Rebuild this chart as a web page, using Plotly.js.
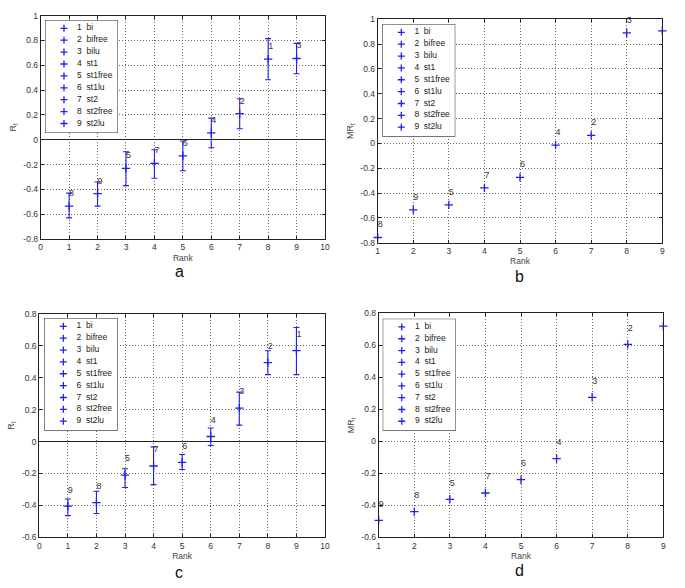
<!DOCTYPE html>
<html>
<head>
<meta charset="utf-8">
<script src="https://cdn.plot.ly/plotly-3.0.1.min.js"></script>
<style>
  html, body { margin: 0; padding: 0; background: #fff; }
  #plot { width: 685px; height: 588px; }
</style>
</head>
<body>
<div id="plot"></div>
<script>
// methods, numbered 1..9 in the legends and in the point labels
const methods = ['bi', 'bifree', 'bilu', 'st1', 'st1free', 'st1lu', 'st2', 'st2free', 'st2lu'];
const ranks = [1, 2, 3, 4, 5, 6, 7, 8, 9];

// a: R_t with error bars (method at each rank)
const orderA = [8, 9, 5, 7, 6, 4, 2, 1, 3];
const valA = [-0.535, -0.435, -0.23, -0.19, -0.13, 0.056, 0.21, 0.65, 0.655];
const errUpA = [0.105, 0.095, 0.133, 0.11, 0.12, 0.118, 0.12, 0.165, 0.122];
const errDownA = [0.095, 0.1, 0.14, 0.12, 0.12, 0.121, 0.121, 0.166, 0.123];

// b: MR_t
const orderB = [8, 9, 5, 7, 6, 4, 2, 3, 1];
const valB = [-0.758, -0.535, -0.495, -0.358, -0.274, -0.014, 0.065, 0.89, 0.907];

// c: R_t with error bars
const orderC = [9, 8, 5, 7, 6, 4, 3, 2, 1];
const valC = [-0.405, -0.382, -0.21, -0.153, -0.13, 0.032, 0.21, 0.495, 0.57];
const errUpC = [0.045, 0.071, 0.04, 0.12, 0.049, 0.053, 0.1, 0.075, 0.145];
const errDownC = [0.059, 0.069, 0.078, 0.117, 0.045, 0.056, 0.107, 0.075, 0.15];

// d: MR_t
const orderD = [9, 8, 5, 7, 6, 4, 3, 2, 1];
const valD = [-0.494, -0.44, -0.3625, -0.323, -0.24, -0.108, 0.275, 0.606, 0.72];

// tick labels
const xTicksWide = [0, 1, 2, 3, 4, 5, 6, 7, 8, 9, 10];
const xTicksTight = [1, 2, 3, 4, 5, 6, 7, 8, 9];
const yTicksAB = [-0.8, -0.6, -0.4, -0.2, 0, 0.2, 0.4, 0.6, 0.8, 1];
const yTicksCD = [-0.6, -0.4, -0.2, 0, 0.2, 0.4, 0.6, 0.8];

// ---------------------------------------------------------------------------
const W = 685, H = 588;
const px = (x) => x / W;
const py = (y) => 1 - y / H;

const BLUE = '#2020ee';
const FONT = 'Liberation Sans, Arial, sans-serif';
const LEG_Y = [9.8, 0.3];   // legend axes y range (rows 1..9 top to bottom)

const panels = [
    { cap: 'a', order: orderA, vals: valA, up: errUpA, down: errDownA,
      box: [40.7, 15.7, 325, 239], leg: [45, 20, 118, 133],
      xt: xTicksWide, yt: yTicksAB, ytitle: 'R<sub>t</sub>', zero: true, capPos: [179, 271] },
    { cap: 'b', order: orderB, vals: valB,
      box: [377.7, 19.3, 662.3, 242.7], leg: [382.3, 24, 455.3, 136.7],
      xt: xTicksTight, yt: yTicksAB, ytitle: 'MR<sub>t</sub>', zero: false, capPos: [519, 276] },
    { cap: 'c', order: orderC, vals: valC, up: errUpC, down: errDownC,
      box: [39.3, 314, 325, 537.3], leg: [44.3, 318, 117.7, 430.7],
      xt: xTicksWide, yt: yTicksCD, ytitle: 'R<sub>t</sub>', zero: true, capPos: [179, 572] },
    { cap: 'd', order: orderD, vals: valD,
      box: [378.7, 313.3, 663.3, 537.3], leg: [382.7, 318.7, 456, 430.7],
      xt: xTicksTight, yt: yTicksCD, ytitle: 'MR<sub>t</sub>', zero: false, capPos: [519, 570] }
];

const data = [];
const layout = {
    width: W,
    height: H,
    margin: { t: 0, b: 0, l: 0, r: 0 },
    paper_bgcolor: '#fff',
    plot_bgcolor: '#fff',
    font: { family: FONT, size: 9, color: '#222' },
    showlegend: false,
    annotations: []
};

const marker = { symbol: 'cross-thin-open', size: 6, color: BLUE, line: { color: BLUE, width: 1.3 } };

panels.forEach(function (p, i) {
    const n = i + 1;
    const ax = n === 1 ? '' : String(n);
    const lg = String(n + 4);

    // main points (+ error bars for a and c)
    const pts = {
        type: 'scatter',
        mode: 'markers',
        x: ranks,
        y: p.vals,
        xaxis: 'x' + ax,
        yaxis: 'y' + ax,
        cliponaxis: false,
        marker: marker,
        hoverinfo: 'x+y'
    };
    if (p.up) {
        pts.error_y = {
            type: 'data', symmetric: false, array: p.up, arrayminus: p.down,
            color: BLUE, thickness: 1.1, width: 3
        };
    }
    data.push(pts);

    // method numbers above each point
    data.push({
        type: 'scatter',
        mode: 'text',
        x: ranks,
        y: p.vals.map(v => v + 0.1),
        text: p.order.map(m => String(m)),
        textposition: 'middle right',
        textfont: { family: FONT, size: 9, color: '#333' },
        xaxis: 'x' + ax,
        yaxis: 'y' + ax,
        cliponaxis: false,
        hoverinfo: 'skip'
    });

    // legend: white panel, markers and labels on their own small axes
    data.push({
        type: 'scatter',
        mode: 'lines',
        x: [0, 1, 1, 0, 0],
        y: [LEG_Y[0], LEG_Y[0], LEG_Y[1], LEG_Y[1], LEG_Y[0]],
        fill: 'toself',
        fillcolor: '#fff',
        line: { color: '#222', width: 1 },
        xaxis: 'x' + lg,
        yaxis: 'y' + lg,
        hoverinfo: 'skip'
    });
    data.push({
        type: 'scatter',
        mode: 'markers',
        x: ranks.map(() => 0.26),
        y: ranks,
        xaxis: 'x' + lg,
        yaxis: 'y' + lg,
        marker: { symbol: 'cross-thin-open', size: 5, color: BLUE, line: { color: BLUE, width: 1.3 } },
        hoverinfo: 'skip'
    });
    data.push({
        type: 'scatter',
        mode: 'text',
        x: ranks.map(() => 0.44),
        y: ranks,
        text: ranks.map((r, k) => r + '\u00a0\u00a0' + methods[k]),
        textposition: 'middle right',
        textfont: { family: FONT, size: 8.5, color: '#222' },
        xaxis: 'x' + lg,
        yaxis: 'y' + lg,
        hoverinfo: 'skip'
    });

    layout['xaxis' + ax] = {
        domain: [px(p.box[0]), px(p.box[2])],
        anchor: 'y' + ax,
        range: [p.xt[0], p.xt[p.xt.length - 1]],
        tickvals: p.xt,
        ticktext: p.xt.map(String),
        ticks: 'inside',
        ticklen: 3,
        tickcolor: '#222',
        showline: true,
        mirror: 'ticks',
        linecolor: '#222',
        linewidth: 1,
        showgrid: true,
        gridcolor: '#666',
        griddash: '1px,2px',
        gridwidth: 1,
        zeroline: false,
        tickfont: { family: FONT, size: 8.5, color: '#333' },
        title: { text: 'Rank', font: { family: FONT, size: 8.5, color: '#444' }, standoff: 3 }
    };
    layout['yaxis' + ax] = {
        domain: [py(p.box[3]), py(p.box[1])],
        anchor: 'x' + ax,
        range: [p.yt[0], p.yt[p.yt.length - 1]],
        tickvals: p.yt,
        ticktext: p.yt.map(String),
        ticks: 'inside',
        ticklen: 3,
        tickcolor: '#222',
        showline: true,
        mirror: 'ticks',
        linecolor: '#222',
        linewidth: 1,
        showgrid: true,
        gridcolor: '#666',
        griddash: '1px,2px',
        gridwidth: 1,
        zeroline: p.zero,
        zerolinecolor: '#222',
        zerolinewidth: 1,
        tickfont: { family: FONT, size: 8.5, color: '#333' },
        title: { text: p.ytitle, font: { family: FONT, size: 9, color: '#444' }, standoff: 5 }
    };

    layout['xaxis' + lg] = {
        domain: [px(p.leg[0]), px(p.leg[2])],
        anchor: 'y' + lg,
        range: [0, 1],
        visible: false,
        fixedrange: true
    };
    layout['yaxis' + lg] = {
        domain: [py(p.leg[3]), py(p.leg[1])],
        anchor: 'x' + lg,
        range: LEG_Y,
        visible: false,
        fixedrange: true
    };

    // panel letter
    layout.annotations.push({
        text: p.cap,
        xref: 'paper', yref: 'paper',
        x: px(p.capPos[0]), y: py(p.capPos[1]),
        xanchor: 'center', yanchor: 'middle',
        showarrow: false,
        font: { family: FONT, size: 16, color: '#111' }
    });
});

Plotly.newPlot('plot', data, layout, { displayModeBar: false, staticPlot: true });
</script>
</body>
</html>
